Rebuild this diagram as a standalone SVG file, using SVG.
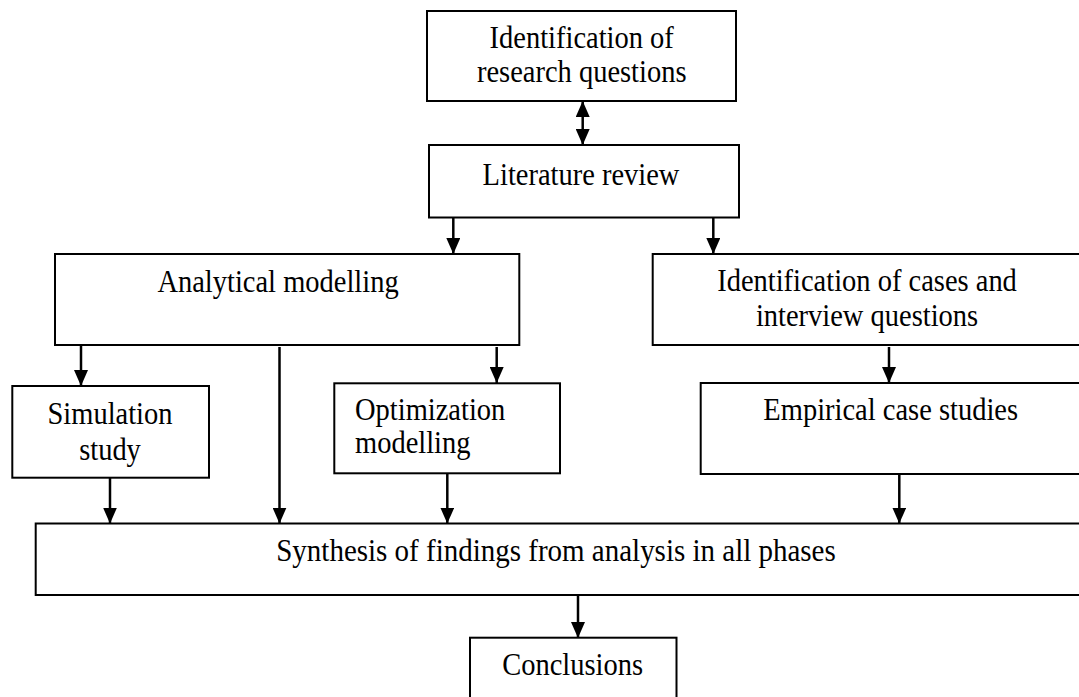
<svg xmlns="http://www.w3.org/2000/svg" width="1079" height="697" viewBox="0 0 1079 697">
<style>
.box{fill:#fff;stroke:#000;stroke-width:2}
.t{font-family:"Liberation Serif","Times New Roman",serif;font-size:28.5px;fill:#000}
.c{text-anchor:middle}
.ln{stroke:#000;stroke-width:2.5;fill:none}
.ar{marker-end:url(#ah)}
</style>
<defs>
<marker id="ah" viewBox="0 0 16 14" refX="16" refY="7" markerWidth="16" markerHeight="14" markerUnits="userSpaceOnUse" orient="auto-start-reverse">
<path d="M0,0 L16,7 L0,14 z" fill="#000"/>
</marker>
</defs>
<rect width="1079" height="697" fill="#fff"/>
<g id="connectors">
<line class="ln" x1="582.7" y1="101" x2="582.7" y2="145" marker-start="url(#ah)" marker-end="url(#ah)"/>
<line class="ln ar" x1="453.3" y1="218" x2="453.3" y2="254"/>
<line class="ln ar" x1="713.3" y1="218" x2="713.3" y2="254"/>
<line class="ln ar" x1="81" y1="346" x2="81" y2="386"/>
<line class="ln ar" x1="279.5" y1="347" x2="279.5" y2="523.5"/>
<line class="ln ar" x1="496.7" y1="347" x2="496.7" y2="383"/>
<line class="ln ar" x1="889" y1="347" x2="889" y2="383"/>
<line class="ln ar" x1="110" y1="478" x2="110" y2="523.5"/>
<line class="ln ar" x1="447.3" y1="474" x2="447.3" y2="523.5"/>
<line class="ln ar" x1="899.3" y1="474.5" x2="899.3" y2="523.5"/>
<line class="ln ar" x1="578" y1="596" x2="578" y2="638"/>
</g>
<g id="n-research">
<rect class="box" x="427" y="11" width="309" height="90"/>
<text class="t c" transform="translate(581.7,48.3) scale(1,1.1)">Identification of</text>
<text class="t c" transform="translate(581.7,81.7) scale(1,1.1)">research questions</text>
</g>
<g id="n-literature">
<rect class="box" x="429" y="145" width="310" height="72.5"/>
<text class="t c" transform="translate(581,184.5) scale(1,1.1)">Literature review</text>
</g>
<g id="n-analytical">
<rect class="box" x="55" y="254" width="464.3" height="91"/>
<text class="t c" transform="translate(278,292) scale(1,1.1)">Analytical modelling</text>
</g>
<g id="n-cases">
<rect class="box" x="652.7" y="254" width="440" height="91"/>
<text class="t c" transform="translate(867,290.7) scale(1,1.1)">Identification of cases and</text>
<text class="t c" transform="translate(867,326) scale(1,1.1)">interview questions</text>
</g>
<g id="n-simulation">
<rect class="box" x="12.3" y="386" width="196.7" height="91.7"/>
<text class="t c" transform="translate(110,424.3) scale(1,1.1)">Simulation</text>
<text class="t c" transform="translate(110,460) scale(1,1.1)">study</text>
</g>
<g id="n-optimization">
<rect class="box" x="334.3" y="383.3" width="225.7" height="90"/>
<text class="t" transform="translate(355,420) scale(1,1.1)">Optimization</text>
<text class="t" transform="translate(355,453.3) scale(1,1.1)">modelling</text>
</g>
<g id="n-empirical">
<rect class="box" x="700.7" y="383" width="400" height="91"/>
<text class="t c" transform="translate(890.7,420) scale(1,1.1)">Empirical case studies</text>
</g>
<g id="n-synthesis">
<rect class="box" x="35.7" y="523.5" width="1060" height="71.5"/>
<text class="t c" style="font-size:29px" transform="translate(556,560.5) scale(1,1.1)">Synthesis of findings from analysis in all phases</text>
</g>
<g id="n-conclusions">
<rect class="box" x="470" y="637.7" width="206.5" height="80"/>
<text class="t c" transform="translate(572.6,675) scale(1,1.1)">Conclusions</text>
</g>
</svg>
